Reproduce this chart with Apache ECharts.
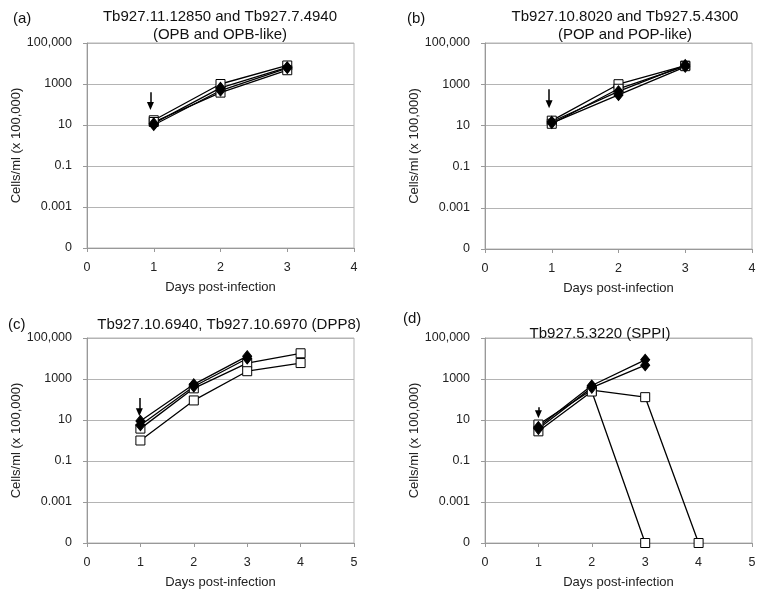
<!DOCTYPE html>
<html><head><meta charset="utf-8">
<script src="https://cdn.jsdelivr.net/npm/echarts@6/dist/echarts.min.js"></script>
<style>html,body{margin:0;padding:0;background:#fff}#c{width:760px;height:590px}</style>
</head><body><div id="c"></div>
<script>
// ---- data (cells/ml x 100,000; "0" plotted at the axis floor 0.00001) ----
const yTickLabels = ['0', '0.001', '0.1', '10', '1000', '100,000'];
const titles = [
  'Tb927.11.12850 and Tb927.7.4940\n(OPB and OPB-like)',
  'Tb927.10.8020 and Tb927.5.4300\n(POP and POP-like)',
  'Tb927.10.6940, Tb927.10.6970 (DPP8)',
  'Tb927.5.3220 (SPPI)'
];
const panelLetters = ['(a)', '(b)', '(c)', '(d)'];
const xMaxes = [4, 4, 5, 5];

// (a)
const aDays = [1, 2, 3];
const aSq1 = [17, 1000, 8000];
const aSq2 = [14, 380, 4700];
const aDi1 = [12, 650, 6500];
const aDi2 = [10, 480, 6000];
// (b)
const bDays = [1, 2, 3];
const bSq1 = [17, 1000, 8000];
const bSq2 = [12, 600, 7500];
const bDi1 = [15, 450, 8500];
const bDi2 = [13, 300, 7000];
// (c)
const cSqDays = [1, 2, 3, 4];
const cSq1 = [3.8, 350, 6000, 18000];
const cSq2 = [1, 90, 2400, 6000];
const cDiDays = [1, 2, 3];
const cDi1 = [9, 550, 13000];
const cDi2 = [5.5, 430, 10000];
// (d)
const dSq1Days = [1, 2, 3, 4];
const dSq1 = [6, 290, 130, 0.00001];
const dSq2Days = [1, 2, 3];
const dSq2 = [2.8, 245, 0.00001];
const dDiDays = [1, 2, 3];
const dDi1 = [4.5, 480, 8600];
const dDi2 = [3.7, 380, 4700];

// arrows marking day of induction: [x, yTop, yTip]
const arrows = [[0.95, 400, 85], [0.96, 570, 105], [0.98, 120, 24], [1.0, 42, 19]];

const FONT = '"Liberation Sans", Arial, sans-serif';
const grids = [
  {left: 87, top: 43, width: 267, height: 205},
  {left: 485, top: 43, width: 267, height: 206},
  {left: 87, top: 338, width: 267, height: 206},
  {left: 485, top: 338, width: 267, height: 206}
];

const panels = [
  [[aDays, aSq1, 'sq'], [aDays, aSq2, 'sq'], [aDays, aDi1, 'di'], [aDays, aDi2, 'di']],
  [[bDays, bSq1, 'sq'], [bDays, bSq2, 'sq'], [bDays, bDi1, 'di'], [bDays, bDi2, 'di']],
  [[cSqDays, cSq1, 'sq'], [cSqDays, cSq2, 'sq'], [cDiDays, cDi1, 'di'], [cDiDays, cDi2, 'di']],
  [[dSq1Days, dSq1, 'sq'], [dSq2Days, dSq2, 'sq'], [dDiDays, dDi1, 'di'], [dDiDays, dDi2, 'di']]
];

const series = [];
panels.forEach((p, gi) => {
  series.push({
    type: 'line', xAxisIndex: gi, yAxisIndex: gi, data: [], silent: true, z: 3,
    markLine: {
      silent: true, z: 6, animation: false,
      symbol: ['none', 'triangle'], symbolSize: [7, 8],
      label: {show: false},
      lineStyle: {color: '#000', width: 1.5, type: 'solid'},
      data: [[{coord: [arrows[gi][0], arrows[gi][1]]}, {coord: [arrows[gi][0], arrows[gi][2]]}]]
    }
  });
  p.forEach(([days, vals, kind]) => {
    series.push({
      type: 'line', xAxisIndex: gi, yAxisIndex: gi, z: 4,
      data: days.map((d, i) => [d, vals[i]]),
      symbol: kind === 'sq' ? 'rect' : 'diamond',
      symbolSize: kind === 'sq' ? 9 : [9, 11],
      itemStyle: {color: kind === 'sq' ? '#fff' : '#000', borderColor: '#000', borderWidth: 1},
      lineStyle: {color: '#000', width: 1.3},
      emphasis: {disabled: true},
      animation: false
    });
  });
});

const titleStyle = {fontSize: 15, fontWeight: 'normal', color: '#111', fontFamily: FONT, lineHeight: 18};
const letterStyle = {fontSize: 15, fontWeight: 'normal', color: '#111', fontFamily: FONT};

// data axes: log scale (labels/ticks from the overlaid level axis, one label per two decades)
const logAxes = grids.map((g, i) => ({
  type: 'log', logBase: 10, gridIndex: i, min: 0.00001, max: 100000,
  axisLine: {show: true, lineStyle: {color: '#999'}},
  axisTick: {show: false}, axisLabel: {show: false}, splitLine: {show: false}
}));
const levelAxes = grids.map((g, i) => ({
  type: 'value', gridIndex: i, position: 'left', min: 0, max: yTickLabels.length - 1, interval: 1,
  name: 'Cells/ml (x 100,000)', nameLocation: 'middle', nameGap: 64, nameRotate: 90,
  nameTextStyle: {fontSize: 13, color: '#222', fontFamily: FONT},
  axisLine: {show: false},
  axisTick: {show: true, inside: false, length: 4, lineStyle: {color: '#999'}},
  axisLabel: {fontSize: 12.5, color: '#222', margin: 15, fontFamily: FONT, formatter: v => yTickLabels[v]},
  splitLine: {show: true, lineStyle: {color: '#b4b4b4', width: 1}}
}));

const option = {
  backgroundColor: '#fff',
  animation: false,
  textStyle: {fontFamily: FONT},
  title: [
    {text: titles[0], left: 215, top: 3, textAlign: 'center', textStyle: titleStyle},
    {text: titles[1], left: 620, top: 3, textAlign: 'center', textStyle: titleStyle},
    {text: titles[2], left: 224, top: 311, textAlign: 'center', textStyle: titleStyle},
    {text: titles[3], left: 595, top: 320, textAlign: 'center', textStyle: titleStyle},
    {text: panelLetters[0], left: 8, top: 6, textStyle: letterStyle},
    {text: panelLetters[1], left: 402, top: 6, textStyle: letterStyle},
    {text: panelLetters[2], left: 3, top: 312, textStyle: letterStyle},
    {text: panelLetters[3], left: 398, top: 306, textStyle: letterStyle}
  ],
  grid: grids.map(g => Object.assign({show: true, borderColor: '#b4b4b4', borderWidth: 1, backgroundColor: 'transparent'}, g)),
  xAxis: grids.map((g, i) => ({
    type: 'value', gridIndex: i, min: 0, max: xMaxes[i], interval: 1,
    name: 'Days post-infection', nameLocation: 'middle', nameGap: 33,
    nameTextStyle: {fontSize: 13, color: '#222', fontFamily: FONT},
    axisLine: {show: true, lineStyle: {color: '#999'}},
    axisTick: {show: true, inside: false, length: 4, lineStyle: {color: '#999'}},
    axisLabel: {fontSize: 12.5, color: '#222', margin: 13, fontFamily: FONT},
    splitLine: {show: false}
  })),
  yAxis: logAxes.concat(levelAxes),
  series: series
};

const chart = echarts.init(document.getElementById('c'), null, {renderer: 'canvas'});
chart.setOption(option);
</script>
</body></html>
